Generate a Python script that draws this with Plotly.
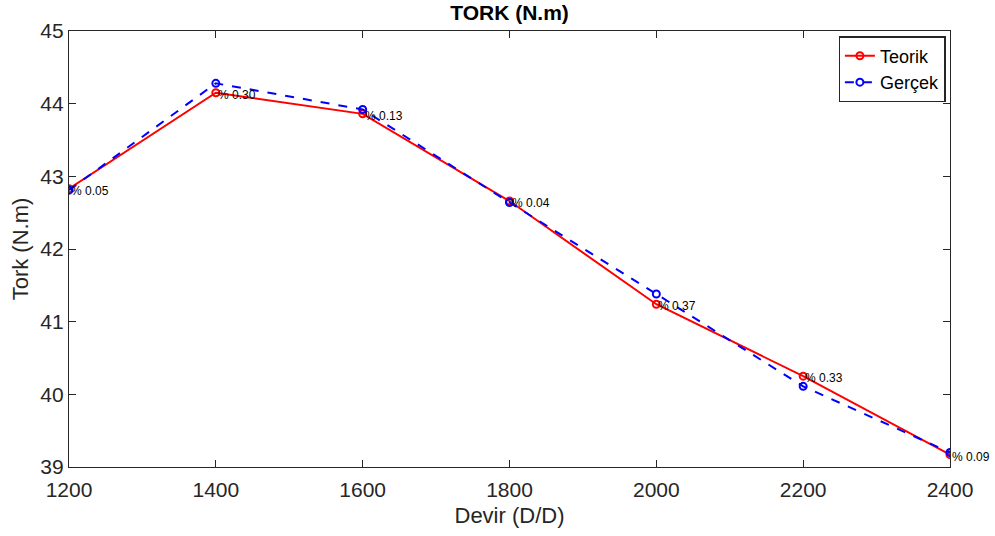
import plotly.graph_objects as go

devir = [1200, 1400, 1600, 1800, 2000, 2200, 2400]
teorik = [42.83, 44.15, 43.86, 42.66, 41.24, 40.25, 39.17]
gercek = [42.81, 44.28, 43.92, 42.64, 41.38, 40.11, 39.20]
hata_labels = ["% 0.05", "% 0.30", "% 0.13", "% 0.04", "% 0.37", "% 0.33", "% 0.09"]

FONT = "Liberation Sans, Arial, sans-serif"
AX = "#262626"

fig = go.Figure()
fig.add_trace(go.Scatter(
    x=devir, y=teorik, name="Teorik", mode="lines+markers",
    line=dict(color="#ff0000", width=2),
    marker=dict(symbol="circle-open", size=7, color="#ff0000", line=dict(width=2)),
))
fig.add_trace(go.Scatter(
    x=devir, y=gercek, name="Gerçek", mode="lines+markers",
    line=dict(color="#0000ff", width=2, dash="dash"),
    marker=dict(symbol="circle-open", size=7, color="#0000ff", line=dict(width=2)),
))

for xv, yv, t in zip(devir, teorik, hata_labels):
    fig.add_annotation(x=xv, y=yv, text=t, showarrow=False, xanchor="left",
                       yanchor="middle", xshift=0, yshift=-2,
                       font=dict(family=FONT, size=12, color="#000000"))

axis_common = dict(
    showline=True, linecolor=AX, linewidth=1.3, mirror="ticks",
    ticks="inside", ticklen=7, tickcolor=AX, tickwidth=1.2,
    showgrid=False, zeroline=False,
    tickfont=dict(family=FONT, size=21, color=AX),
)

fig.update_layout(
    width=995, height=536,
    margin=dict(l=69, r=45, t=31, b=69),
    paper_bgcolor="white", plot_bgcolor="white",
    title=dict(text="<b>TORK (N.m)</b>", x=0.5, xref="paper", xanchor="center",
               y=1, yref="container", yanchor="top", pad=dict(t=5),
               font=dict(family=FONT, size=21, color="#000000")),
    xaxis=dict(range=[1200, 2400], tickvals=[1200, 1400, 1600, 1800, 2000, 2200, 2400],
               ticklabelstandoff=4,
               title=dict(text="Devir (D/D)", font=dict(family=FONT, size=22, color=AX), standoff=7),
               **axis_common),
    yaxis=dict(range=[39, 45], tickvals=[39, 40, 41, 42, 43, 44, 45],
               title=dict(text="Tork (N.m)", font=dict(family=FONT, size=22, color=AX), standoff=5),
               **axis_common),
    legend=dict(x=0.995, y=0.988, xanchor="right", yanchor="top",
                bgcolor="white", bordercolor=AX, borderwidth=1.3,
                font=dict(family=FONT, size=18, color="#000000"),
                tracegroupgap=0, itemwidth=30),
    showlegend=True,
)

fig.write_html("out.html")
